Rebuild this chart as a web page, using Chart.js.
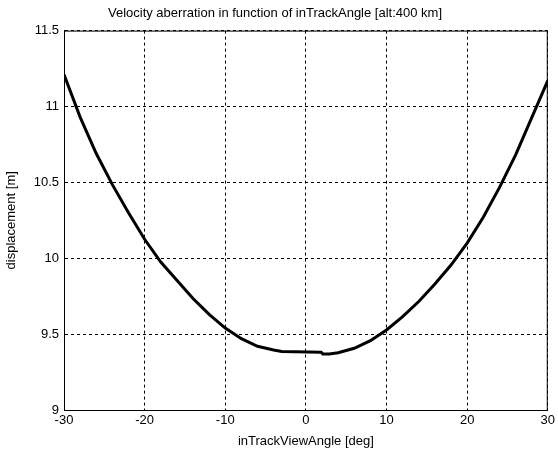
<!DOCTYPE html>
<html>
<head>
<meta charset="utf-8">
<script src="https://cdn.jsdelivr.net/npm/chart.js@4.4.1/dist/chart.umd.min.js"></script>
<style>
  body { margin: 0; background: #fff; }
  canvas { display: block; }
</style>
</head>
<body>
<canvas id="myChart" width="558" height="451"></canvas>
<script>
const angles = [-30, -28, -26, -24, -22, -20, -18, -16, -14, -12, -10, -8, -6, -4, -3, 1.9, 2.1, 2.9, 4, 6, 8, 10, 12, 14, 16, 18, 20, 22, 24, 26, 28, 30];
const displacement = [11.21, 10.93, 10.69, 10.485, 10.3, 10.125, 9.975, 9.855, 9.735, 9.63, 9.54, 9.47, 9.42, 9.395, 9.385, 9.38, 9.369, 9.369, 9.377, 9.407, 9.457, 9.527, 9.615, 9.715, 9.83, 9.955, 10.1, 10.27, 10.465, 10.68, 10.925, 11.17];
const xTicks = [-30, -20, -10, 0, 10, 20, 30];
const yTicks = [9, 9.5, 10, 10.5, 11, 11.5];

const font = { family: "'Liberation Sans', Arial, sans-serif", size: 13 };

// box around the plot area, like matlab
const boxPlugin = {
    id: 'box',
    afterDraw(chart) {
        const a = chart.chartArea;
        const c = chart.ctx;
        c.save();
        c.strokeStyle = '#000';
        c.lineWidth = 1;
        c.strokeRect(a.left + 0.5, a.top + 0.5, a.right - a.left - 1, a.bottom - a.top);
        c.restore();
    }
};

new Chart(document.getElementById('myChart'), {
    type: 'line',
    data: {
        datasets: [{
            data: angles.map((a, i) => ({ x: a, y: displacement[i] })),
            borderColor: '#000',
            borderWidth: 3,
            pointRadius: 0,
            tension: 0
        }]
    },
    options: {
        responsive: false,
        animation: false,
        layout: { padding: { right: 8 } },
        scales: {
            x: {
                type: 'linear',
                min: -30,
                max: 30,
                afterBuildTicks: (s) => { s.ticks = xTicks.map(v => ({ value: v })); },
                afterFit: (s) => { s.height = 41; },
                grid: { color: '#000', lineWidth: 1, drawTicks: false },
                border: { color: '#000', dash: [3, 3] },
                ticks: { color: '#000', font: font, padding: 3, maxRotation: 0 },
                title: { display: true, text: 'inTrackViewAngle [deg]', color: '#000', font: font, padding: { top: 0, bottom: 2 } }
            },
            y: {
                min: 9,
                max: 11.5,
                afterBuildTicks: (s) => { s.ticks = yTicks.map(v => ({ value: v })); },
                afterFit: (s) => { s.width = 64; },
                grid: { color: '#000', lineWidth: 1, drawTicks: false },
                border: { color: '#000', dash: [3, 3] },
                ticks: {
                    color: '#000', font: font, padding: 5,
                    callback: (v) => String(+v.toFixed(2))
                },
                title: { display: true, text: 'displacement [m]', color: '#000', font: font, padding: { top: 4, bottom: 0 } }
            }
        },
        plugins: {
            legend: { display: false },
            tooltip: { enabled: false },
            title: {
                display: true,
                text: 'Velocity aberration in function of inTrackAngle [alt:400 km]',
                color: '#000',
                font: { family: font.family, size: 13, weight: 'normal' },
                padding: { top: 6, bottom: 9 }
            }
        }
    },
    plugins: [boxPlugin]
});
</script>
</body>
</html>
